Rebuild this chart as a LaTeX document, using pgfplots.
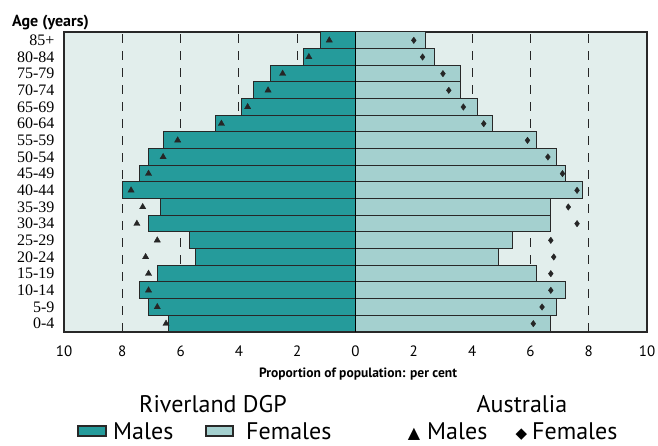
\documentclass[border=0pt]{standalone}
\usepackage{pgfplots}
\pgfplotsset{compat=1.18}
\usepackage{pgfplotstable}
\usepackage{fontspec}
\setmainfont{PT Sans}
\newfontfamily\agefont{Liberation Serif}
\newfontfamily\symfont{DejaVu Sans}

\definecolor{males}{RGB}{37,155,155}
\definecolor{females}{RGB}{164,208,207}
\definecolor{panel}{RGB}{226,238,236}
\definecolor{edge}{RGB}{40,40,40}

% y: 0 = 0-4 ... 17 = 85+ ; rm/rf = Riverland DGP, am/af = Australia
\pgfplotstableread{
y  rm   rf   am   af
0  6.4  6.7  6.5  6.1
1  7.1  6.9  6.8  6.4
2  7.4  7.2  7.1  6.7
3  6.8  6.2  7.1  6.7
4  5.5  4.9  7.2  6.8
5  5.7  5.4  6.8  6.7
6  7.1  6.7  7.5  7.6
7  6.7  6.7  7.3  7.3
8  8.0  7.8  7.7  7.6
9  7.4  7.2  7.1  7.1
10 7.1  6.9  6.6  6.6
11 6.6  6.2  6.1  5.9
12 4.8  4.7  4.6  4.4
13 3.9  4.2  3.7  3.7
14 3.5  3.6  3.0  3.2
15 2.9  3.6  2.5  3.0
16 1.8  2.7  1.6  2.3
17 1.2  2.4  0.9  2.0
}\pyramid

\begin{document}
\begin{tikzpicture}
\path[use as bounding box] (0,0) rectangle (658pt,446pt);
\begin{axis}[
  at={(64pt,114pt)}, anchor=south west,
  scale only axis, width=583pt, height=300pt,
  xmin=-10, xmax=10, ymin=-0.5, ymax=17.5,
  xtick={-10,-8,...,10},
  xticklabels={10,8,6,4,2,0,2,4,6,8,10},
  ytick={0,...,17},
  yticklabels={0-4,5-9,10-14,15-19,20-24,25-29,30-34,35-39,40-44,45-49,50-54,55-59,60-64,65-69,70-74,75-79,80-84,85+},
  yticklabel style={font=\agefont\fontsize{16}{16}\selectfont, anchor=east, xshift=-6pt},
  xticklabel style={font=\fontsize{15}{15}\selectfont, yshift=-10pt},
  axis background/.style={fill=panel},
  xmajorgrids,
  major grid style={draw=black!85, line width=1.1pt, dash pattern=on 9pt off 8pt},
  tick align=inside, xtick pos=lower,
  ytick style={draw=none},
  major tick length=4pt,
  x tick style={black!85, line width=0.8pt},
  axis line style={draw=edge, line width=1.2pt},
]
\addplot[xbar, bar width=1, bar shift=0, fill=males, draw=edge, line width=1pt]
  table[x expr=-\thisrow{rm}, y=y] {\pyramid};
\addplot[xbar, bar width=1, bar shift=0, fill=females, draw=edge, line width=1pt]
  table[x=rf, y=y] {\pyramid};
\draw[black, line width=1.6pt] (axis cs:0,-0.5) -- (axis cs:0,17.5);
\addplot[only marks, mark=triangle*, mark size=3.6pt, color=black!85]
  table[x expr=-\thisrow{am}, y=y] {\pyramid};
\addplot[only marks, mark=diamond*, mark size=3.2pt, color=black!85]
  table[x=af, y=y] {\pyramid};
\end{axis}

\node[anchor=base west, inner sep=0, font=\bfseries\fontsize{16}{16}\selectfont] at (12pt,419pt) {Age (years)};
\node[anchor=base, inner sep=0, font=\bfseries\fontsize{13.5}{13.5}\selectfont] at (358pt,68pt) {Proportion of population: per cent};

\begin{scope}[every node/.style={inner sep=0, font=\fontsize{24}{24}\selectfont}]
\node[anchor=base] at (213pt,33pt) {Riverland DGP};
\node[anchor=base] at (522pt,33pt) {Australia};
\draw[fill=males, draw=edge, line width=1.3pt] (78pt,10pt) rectangle (106pt,20pt);
\node[anchor=base west] at (113pt,6pt) {Males};
\draw[fill=females, draw=edge, line width=1.3pt] (206pt,10pt) rectangle (233pt,20pt);
\node[anchor=base west] at (246pt,6pt) {Females};
\node[anchor=base, font=\symfont\fontsize{16}{16}\selectfont] at (414pt,7pt) {▲};
\node[anchor=base west] at (427pt,6pt) {Males};
\node[anchor=base, font=\symfont\fontsize{15}{15}\selectfont] at (521.5pt,7pt) {◆};
\node[anchor=base west] at (532pt,6pt) {Females};
\end{scope}
\end{tikzpicture}
\end{document}
